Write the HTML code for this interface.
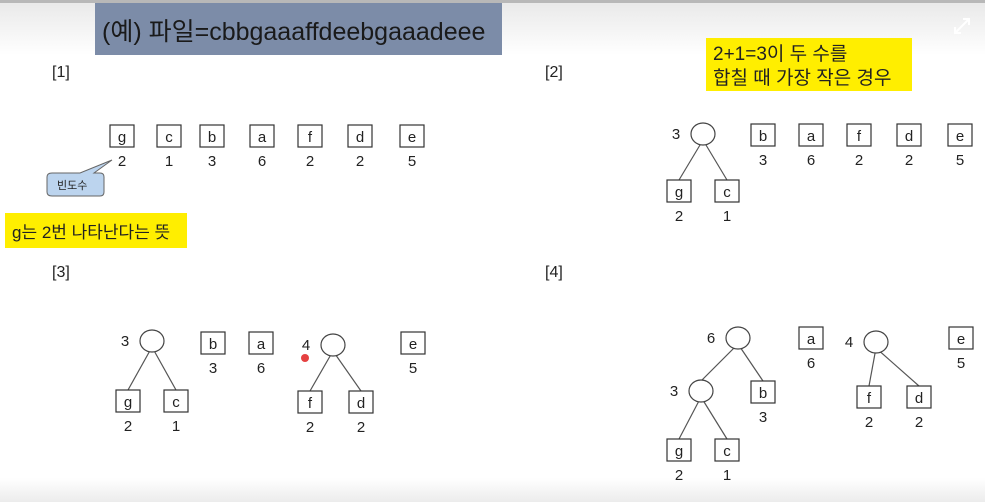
<!DOCTYPE html>
<html><head><meta charset="utf-8"><style>
html,body{margin:0;padding:0;background:#fff;}
svg{display:block;font-family:"Liberation Sans","Noto Sans CJK KR",sans-serif;}
</style></head><body>
<svg id="s" width="985" height="502" viewBox="0 0 985 502">
<defs>
<linearGradient id="tg" x1="0" y1="0" x2="0" y2="1"><stop offset="0" stop-color="#e8e8e8"/><stop offset="1" stop-color="#ffffff"/></linearGradient>
<linearGradient id="bg" x1="0" y1="0" x2="0" y2="1"><stop offset="0" stop-color="#ffffff"/><stop offset="1" stop-color="#ececec"/></linearGradient>
</defs>
<rect x="0" y="0" width="985" height="55" fill="url(#tg)"/>
<rect x="0" y="0" width="985" height="3" fill="#b8b8b8"/>
<rect x="0" y="478" width="985" height="24" fill="url(#bg)"/>
<rect x="95" y="3" width="407" height="52" fill="#7c8ca8"/>
<text x="102" y="40" font-size="25" fill="#1a1a1a">(예) 파일=cbbgaaaffdeebgaaadeee</text>
<g stroke="#fff" stroke-width="2" fill="none"><path d="M955 33 L969 19 M963 19 H969 V25 M955 27 V33 H961"/></g>
<text x="52" y="77" font-size="16" fill="#222">[1]</text>
<text x="545" y="77" font-size="16" fill="#222">[2]</text>
<text x="52" y="277" font-size="16" fill="#222">[3]</text>
<text x="545" y="277" font-size="16" fill="#222">[4]</text>
<rect x="706" y="38" width="206" height="53" fill="#ffee00"/>
<text x="713" y="60" font-size="19" fill="#222">2+1=3이 두 수를</text>
<text x="713" y="84" font-size="19" fill="#222">합칠 때 가장 작은 경우</text>
<rect x="5" y="213" width="182" height="35" fill="#ffee00"/>
<text x="12" y="238" font-size="17" fill="#222">g는 2번 나타난다는 뜻</text>
<path d="M52 173 H80 L112 160 L94 173 H100 Q104 173 104 177 V192 Q104 196 100 196 H52 Q47 196 47 192 V177 Q47 173 52 173 Z" fill="#bcd4ee" stroke="#666" stroke-width="1"/>
<text x="57" y="189" font-size="11" fill="#222">빈도수</text>
<circle cx="305" cy="358" r="4" fill="#e02020" opacity="0.85"/>
<g id="layer"></g>
</svg>
<script>
const leafLabels=["g","c","b","a","f","d","e", "b","a","f","d","e","g","c", "g","c","b","a","f","d","e", "g","c","b","a","f","d","e"];
const leafCounts=[2,1,3,6,2,2,5, 3,6,2,2,5,2,1, 2,1,3,6,2,2,5, 2,1,3,6,2,2,5];
const leafX=[122,169,212,262,310,360,412, 763,811,859,909,960,679,727, 128,176,213,261,310,361,413, 679,727,763,811,869,919,961];
const leafY=[136,136,136,136,136,136,136, 135,135,135,135,135,191,191, 401,401,343,343,402,402,343, 450,450,392,338,397,397,338];
const nodeCounts=[3,3,4,6,3,4];
const nodeX=[703,152,333,738,701,876];
const nodeY=[134,341,345,338,391,342];
const edges=[[0,12],[0,13],[1,14],[1,15],[2,18],[2,19],[3,"n4"],[3,23],[4,21],[4,22],[5,25],[5,26]];
const NS="http://www.w3.org/2000/svg";
const L=document.getElementById("layer");
function mk(t,a){const e=document.createElementNS(NS,t);for(const k in a)e.setAttribute(k,a[k]);L.appendChild(e);return e;}
edges.forEach(([n,t])=>{
  let x2,y2;
  if(typeof t==="string"){const j=+t.slice(1);x2=nodeX[j];y2=nodeY[j]-10;}else{x2=leafX[t];y2=leafY[t]-11;}
  const ln=mk("line",{x1:nodeX[n],y1:nodeY[n]+6,x2:x2,y2:y2,stroke:"#555","stroke-width":1.2});
  
  
});
leafLabels.forEach((lb,i)=>{
  const x=leafX[i],y=leafY[i];
  const r=mk("rect",{x:x-12,y:y-11,width:24,height:22,fill:"#fff",stroke:"#333","stroke-width":1.2});
  
  
  const t=mk("text",{x:x,y:y+6,"text-anchor":"middle","font-size":15,fill:"#222"});t.textContent=lb;
  
  
  const c=mk("text",{x:x,y:y+30,"text-anchor":"middle","font-size":15,fill:"#222"});c.textContent=leafCounts[i];
  
  
});
nodeCounts.forEach((v,i)=>{
  const e=mk("ellipse",{cx:nodeX[i],cy:nodeY[i],rx:12,ry:11,fill:"#fff",stroke:"#444","stroke-width":1.2});
  
  
  const t=mk("text",{x:nodeX[i]-27,y:nodeY[i]+5,"text-anchor":"middle","font-size":15,fill:"#222"});t.textContent=v;
  
  
});
</script>
</body></html>
